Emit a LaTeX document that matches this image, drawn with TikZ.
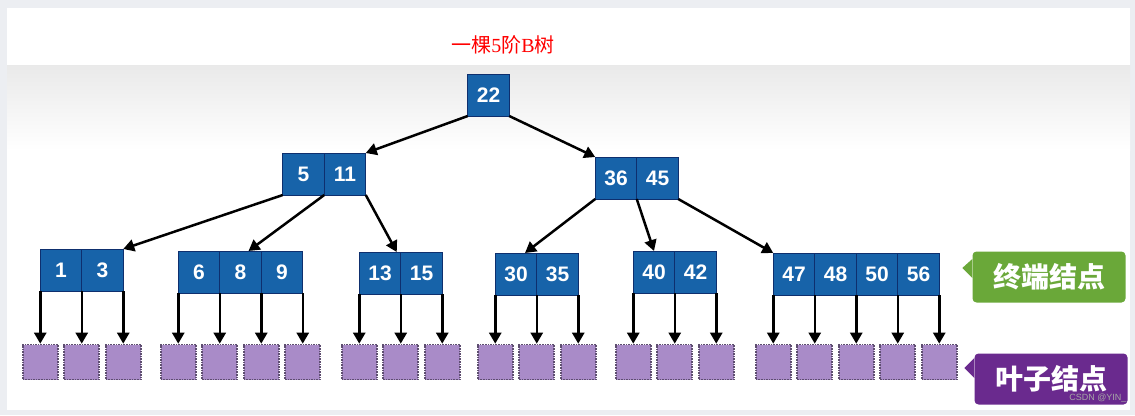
\documentclass[tikz,border=0pt]{standalone}
\usepackage{fontspec}
\setmainfont{Liberation Sans}
\newfontfamily\cjk{Noto Sans CJK SC}
\newfontfamily\serifnum{Liberation Serif}
\usetikzlibrary{positioning,arrows.meta}
\definecolor{keyblue}{HTML}{1763A9}
\definecolor{keyline}{HTML}{0E2F6E}
\definecolor{leafpurple}{HTML}{A98BC8}
\definecolor{leafline}{HTML}{5E4E70}
\definecolor{taggreen}{HTML}{6AA839}
\definecolor{tagpurple}{HTML}{6A2A8E}
\definecolor{framegray}{HTML}{ECEEF2}
\tikzset{
  key/.style={rectangle,draw=keyline,fill=keyblue,line width=1pt,minimum width=41.5pt,minimum height=42pt,
    inner sep=0pt,outer sep=0pt,text=white,font=\bfseries\fontsize{21}{21}\selectfont},
  leaf/.style={rectangle,draw=leafline,fill=leafpurple,densely dotted,line width=1.6pt,minimum size=35pt,inner sep=0pt},
  arr/.style={line width=2.5pt,-{Triangle[length=11pt,width=12pt]}},
  tag/.style={rectangle,rounded corners=4pt,text=white,minimum height=51pt,minimum width=153pt,
    font=\cjk\bfseries\fontsize{28}{28}\selectfont}
}
\begin{document}
\begin{tikzpicture}[x=1pt,y=-1pt]
\useasboundingbox (0,0) rectangle (1135,415);
\fill[framegray] (0,0) rectangle (1135,415);
\fill[white] (7,8) rectangle (1130,410);
\shade[top color=gray!17,bottom color=white] (7,65) rectangle (1130,150);
\node[font=\cjk\fontsize{20}{20}\selectfont,text=red] (title) at (503,45) {一棵{\serifnum 5}阶{\serifnum B}树};
% root and inner nodes
\node[key] (k22) at (488.5,95) {22};
\node[key] (k5) at (303.5,174) {5};
\node[key,right=0pt of k5] (k11) {11};
\node[key] (k36) at (616,178) {36};
\node[key,right=0pt of k36] (k45) {45};
% terminal nodes
\node[key] (k1) at (61,270) {1};
\node[key,right=0pt of k1] (k3) {3};
\node[key] (k6) at (199,272) {6};
\node[key,right=0pt of k6] (k8) {8};
\node[key,right=0pt of k8] (k9) {9};
\node[key] (k13) at (380,273) {13};
\node[key,right=0pt of k13] (k15) {15};
\node[key] (k30) at (516,274) {30};
\node[key,right=0pt of k30] (k35) {35};
\node[key] (k40) at (654,272) {40};
\node[key,right=0pt of k40] (k42) {42};
\node[key] (k47) at (794,274) {47};
\node[key,right=0pt of k47] (k48) {48};
\node[key,right=0pt of k48] (k50) {50};
\node[key,right=0pt of k50] (k56) {56};
% tree edges
\draw[arr] (k22.south west) -- (k11.north east);
\draw[arr] (k22.south east) -- (k36.north west);
\draw[arr] (k5.south west) -- (k3.north east);
\draw[arr] (k5.south east) -- ([xshift=8pt]k8.north);
\draw[arr] (k11.south east) -- ([xshift=-4pt]k13.north east);
\draw[arr] (k36.south west) -- ([xshift=9pt]k30.north);
\draw[arr] (k36.south east) -- (k40.north);
\draw[arr] (k45.south east) -- (k47.north west);
% leaves
\foreach \a [count=\i] in {k1.south west,k1.south east,k3.south east,
  k6.south west,k6.south east,k8.south east,k9.south east,
  k13.south west,k13.south east,k15.south east,
  k30.south west,k30.south east,k35.south east,
  k40.south west,k40.south east,k42.south east,
  k47.south west,k47.south east,k48.south east,k50.south east,k56.south east}{
  \node[leaf] (l\i) at (\a |- 0,362) {};
  \draw[arr] (\a) -- (l\i);
}
% labels
\node[tag,fill=taggreen] (tagEnd) at (1049,277) {终端结点};
\fill[taggreen] ([yshift=18pt]tagEnd.west) -- ([xshift=-10pt,yshift=9pt]tagEnd.west) -- ([yshift=-1pt]tagEnd.west) -- cycle;
\node[tag,fill=tagpurple] (tagLeaf) at (1051,379) {叶子结点};
\fill[tagpurple] ([yshift=21pt]tagLeaf.west) -- ([xshift=-10pt,yshift=11pt]tagLeaf.west) -- ([yshift=1pt]tagLeaf.west) -- cycle;
\node[text=gray!70,font=\fontsize{9}{9}\selectfont,anchor=east] (mark) at (1130,398) {CSDN @YIN\_};
\end{tikzpicture}
\end{document}
